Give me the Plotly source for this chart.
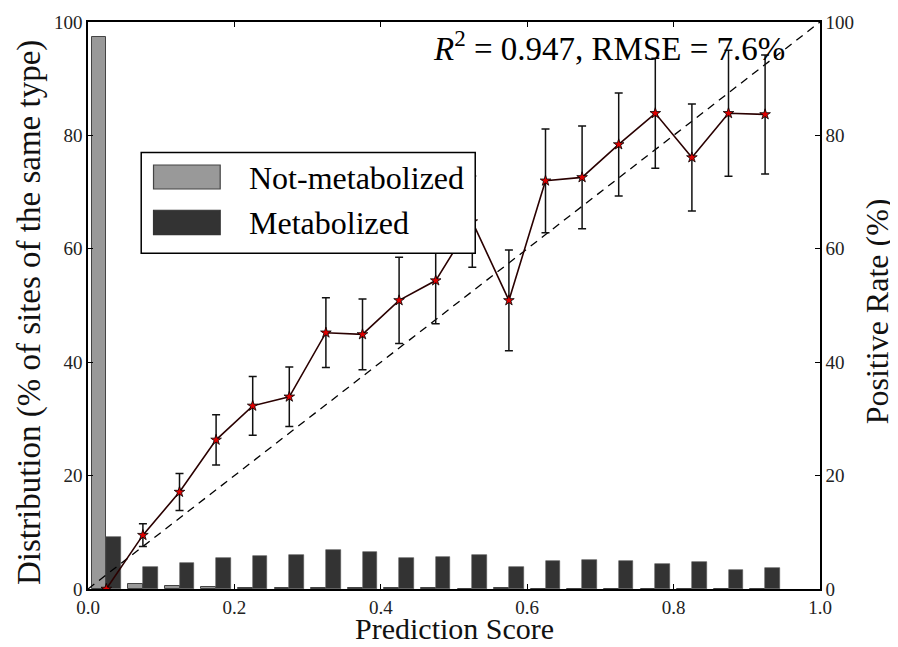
import plotly.graph_objects as go

# ---- data ----
bin_left = [0.00, 0.05, 0.10, 0.15, 0.20, 0.25, 0.30, 0.35, 0.40, 0.45,
            0.50, 0.55, 0.60, 0.65, 0.70, 0.75, 0.80, 0.85, 0.90, 0.95]
bin_width = 0.05
not_metabolized = [97.3, 0.8, 0.5, 0.35, 0.25, 0.2, 0.15, 0.15, 0.12, 0.1,
                   0.08, 0.1, 0.05, 0.05, 0.05, 0.04, 0.04, 0.03, 0.03, None]
metabolized = [9.2, 3.8, 4.5, 5.4, 5.8, 6.0, 6.9, 6.6, 5.4, 5.6,
               6.0, 3.9, 4.9, 5.1, 4.9, 4.4, 4.7, 3.4, 3.7, None]
positive_rate = [0.0, 9.5, 17.1, 26.3, 32.3, 33.9, 45.2, 44.9, 50.9, 54.4,
                 64.8, 50.9, 72.0, 72.6, 78.4, 83.9, 76.1, 83.9, 83.7]
rate_err = [0.0, 2.0, 3.25, 4.45, 5.2, 5.25, 6.15, 6.25, 7.6, 7.6,
            8.05, 8.9, 9.15, 9.05, 9.1, 9.7, 9.45, 11.1, 10.5]
legend_labels = ["Not-metabolized", "Metabolized"]
annotation_text = "<i>R</i><sup>2</sup> = 0.947, RMSE = 7.6%"
x_title = "Prediction Score"
y_title = "Distribution (% of sites of the same type)"
y2_title = "Positive Rate (%)"

FONT = "Liberation Serif"
GREY = "#999999"
DARK = "#333333"

bar_w = bin_width * 0.8 / 2
grey_x = [b + bin_width * 0.1 + bar_w / 2 for b in bin_left]
dark_x = [b + bin_width * 0.1 + bar_w * 1.5 for b in bin_left]
centers = [b + bin_width / 2 for b in bin_left][:len(positive_rate)]

fig = go.Figure()
fig.add_trace(go.Bar(x=grey_x, y=not_metabolized, width=bar_w,
                     marker=dict(color=GREY, line=dict(color="#444444", width=1)),
                     name=legend_labels[0], showlegend=False))
fig.add_trace(go.Bar(x=dark_x, y=metabolized, width=bar_w,
                     marker=dict(color=DARK, line=dict(color="#555555", width=0.6)),
                     name=legend_labels[1], showlegend=False))
fig.add_trace(go.Scatter(x=[0, 1], y=[0, 100], mode="lines", yaxis="y2",
                         line=dict(color="black", width=1.3, dash="8px,6px"),
                         showlegend=False))
fig.add_trace(go.Scatter(x=centers, y=positive_rate, mode="lines+markers", yaxis="y2",
                         line=dict(color="#2a0000", width=1.6),
                         marker=dict(symbol="star", size=8, color="#e00000",
                                     line=dict(color="black", width=0.8)),
                         error_y=dict(type="data", array=rate_err, visible=True,
                                      color="#111111", thickness=1.5, width=4),
                         showlegend=False))

axis_common = dict(showline=True, linecolor="black", linewidth=1.5, ticks="inside",
                   ticklen=5, tickwidth=1, tickcolor="black", showgrid=False,
                   zeroline=False, automargin=False,
                   tickfont=dict(family=FONT, size=19, color="#222"))

# page body has an 8px margin, so the figure is sized to end at the window edge
fig.update_layout(
    width=890, height=639,
    margin=dict(l=80, r=78, t=14, b=58),
    plot_bgcolor="white", paper_bgcolor="white",
    barmode="overlay", bargap=0,
    font=dict(family=FONT, color="#111"),
    xaxis=dict(range=[0, 1], tickvals=[0, 0.2, 0.4, 0.6, 0.8, 1.0],
               ticktext=["0.0", "0.2", "0.4", "0.6", "0.8", "1.0"], mirror="ticks",
               **axis_common),
    yaxis=dict(range=[0, 100], tickvals=[0, 20, 40, 60, 80, 100], mirror=True,
               **axis_common),
    yaxis2=dict(range=[0, 100], tickvals=[0, 20, 40, 60, 80, 100], overlaying="y",
                side="right", **axis_common),
)

TITLE_SIZE = 32
# axis titles
fig.add_annotation(x=0.5, y=-0.0705, xref="paper", yref="paper", xanchor="center",
                   yanchor="middle", text=x_title, showarrow=False,
                   font=dict(family=FONT, size=30, color="#111"))
fig.add_annotation(x=-0.079, y=0.487, xref="paper", yref="paper", xanchor="center",
                   yanchor="middle", text=y_title, textangle=-90, showarrow=False,
                   font=dict(family=FONT, size=33, color="#111"))
fig.add_annotation(x=1.078, y=0.49, xref="paper", yref="paper", xanchor="center",
                   yanchor="middle", text=y2_title, textangle=-90, showarrow=False,
                   font=dict(family=FONT, size=TITLE_SIZE, color="#111"))

# R^2 annotation
fig.add_annotation(x=0.955, y=0.998, xref="paper", yref="paper", xanchor="right",
                   yanchor="top", text=annotation_text, showarrow=False,
                   font=dict(family=FONT, size=33, color="black"))

# custom legend
fig.add_shape(type="rect", xref="paper", yref="paper", x0=0.0727, x1=0.529,
              y0=0.592, y1=0.770, line=dict(color="black", width=1.5), fillcolor="white",
              layer="above")
patches = [(0.7478, 0.7055, GREY, "#444444"), (0.668, 0.6249, DARK, DARK)]
text_y = [0.7254, 0.6455]
for (ya, yb, fc, lc), ty, lab in zip(patches, text_y, legend_labels):
    fig.add_shape(type="rect", xref="paper", yref="paper", x0=0.0895, x1=0.1806,
                  y0=yb, y1=ya, fillcolor=fc, line=dict(color=lc, width=1.2), layer="above")
    fig.add_annotation(x=0.2169, y=ty, xref="paper", yref="paper", xanchor="left",
                       yanchor="middle", text=lab, showarrow=False,
                       font=dict(family=FONT, size=32, color="black"))

fig.write_html("out.html")
